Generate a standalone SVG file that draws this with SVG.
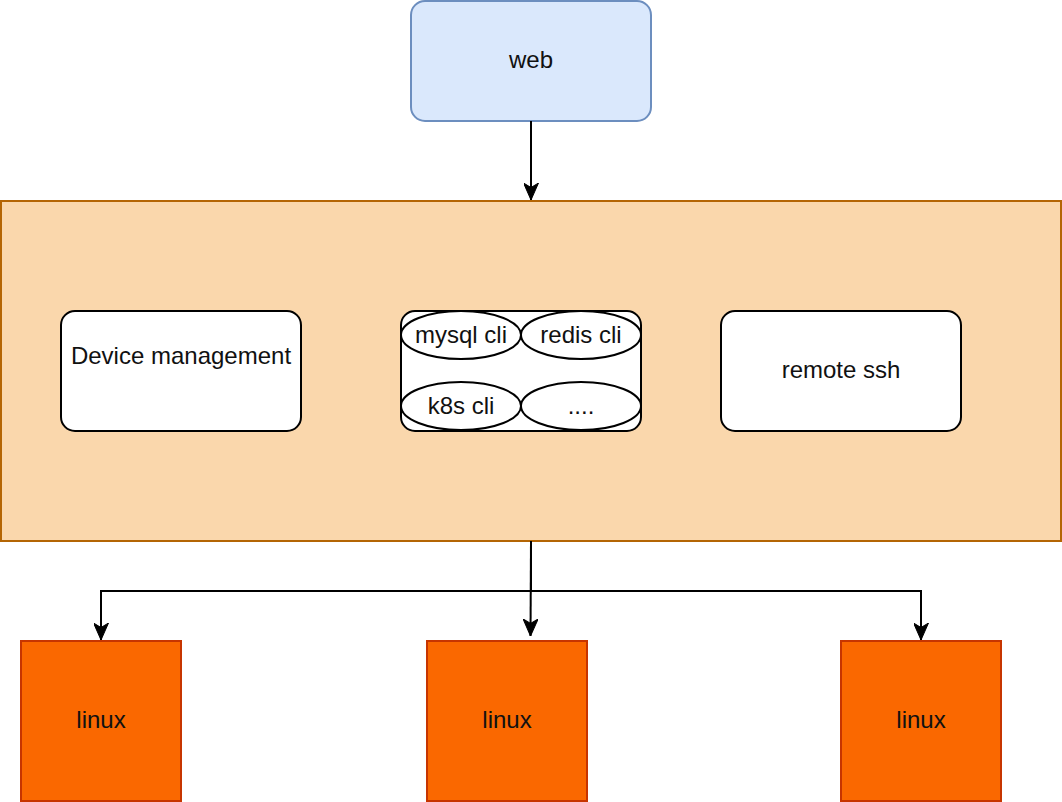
<svg xmlns="http://www.w3.org/2000/svg" width="1062" height="802" viewBox="0 0 1062 802">
<style>
  text { font-family: "Liberation Sans", Arial, Helvetica, sans-serif; font-size: 24px; fill: #111111; text-anchor: middle; }
  .white { fill: #ffffff; stroke: #000000; stroke-width: 2; }
  .conn { fill: none; stroke: #000000; stroke-width: 2; }
</style>
<defs>
  <marker id="arrow" viewBox="0 0 17 15" refX="17" refY="7.5" markerWidth="17" markerHeight="15" markerUnits="userSpaceOnUse" orient="auto">
    <path d="M0,0 L17,7.5 L0,15 L4.5,7.5 Z" fill="#000000" stroke="#000000" stroke-width="1"/>
  </marker>
</defs>
<rect width="1062" height="802" fill="#ffffff"/>
<g id="web">
  <rect x="411" y="1" width="240" height="120" rx="14" fill="#dae8fc" stroke="#6c8ebf" stroke-width="2"/>
  <text x="531" y="68">web</text>
</g>
<g id="server">
  <rect x="1" y="201" width="1060" height="340" fill="#fad7ac" stroke="#b46504" stroke-width="2"/>
</g>
<g id="device-management">
  <rect class="white" x="61" y="311" width="240" height="120" rx="14"/>
  <text x="181" y="364">Device management</text>
</g>
<g id="cli">
  <rect class="white" x="401" y="311" width="240" height="120" rx="14"/>
  <g id="mysql-cli">
    <ellipse class="white" cx="461" cy="335" rx="60" ry="24"/>
    <text x="461" y="343">mysql cli</text>
  </g>
  <g id="redis-cli">
    <ellipse class="white" cx="581" cy="335" rx="60" ry="24"/>
    <text x="581" y="343">redis cli</text>
  </g>
  <g id="k8s-cli">
    <ellipse class="white" cx="461" cy="406" rx="60" ry="24"/>
    <text x="461" y="414">k8s cli</text>
  </g>
  <g id="more-cli">
    <ellipse class="white" cx="581" cy="406" rx="60" ry="24"/>
    <text x="581" y="414">....</text>
  </g>
</g>
<g id="remote-ssh">
  <rect class="white" x="721" y="311" width="240" height="120" rx="14"/>
  <text x="841" y="378">remote ssh</text>
</g>
<g id="linux-1">
  <rect x="21" y="641" width="160" height="160" fill="#fa6800" stroke="#c73500" stroke-width="2"/>
  <text x="101" y="728">linux</text>
</g>
<g id="linux-2">
  <rect x="427" y="641" width="160" height="160" fill="#fa6800" stroke="#c73500" stroke-width="2"/>
  <text x="507" y="728">linux</text>
</g>
<g id="linux-3">
  <rect x="841" y="641" width="160" height="160" fill="#fa6800" stroke="#c73500" stroke-width="2"/>
  <text x="921" y="728">linux</text>
</g>
<g id="connectors">
  <path class="conn" d="M531,121 L531,200" marker-end="url(#arrow)"/>
  <path class="conn" d="M531,541 L531,591 L101,591 L101,640" marker-end="url(#arrow)"/>
  <path class="conn" d="M531,541 L530.5,636" marker-end="url(#arrow)"/>
  <path class="conn" d="M531,591 L921,591 L921,640" marker-end="url(#arrow)"/>
</g>
</svg>
